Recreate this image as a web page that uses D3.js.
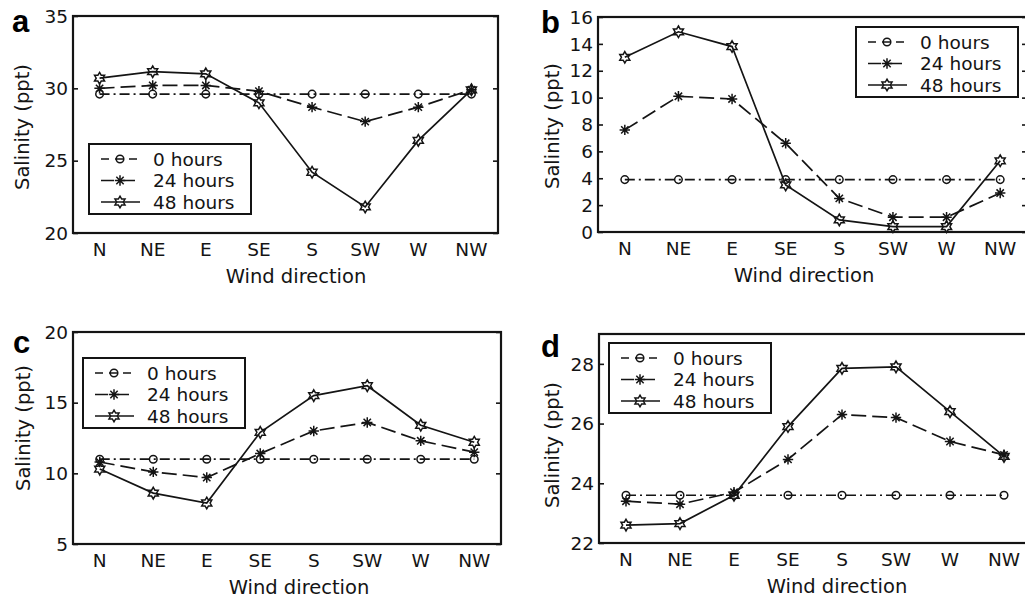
<!DOCTYPE html>
<html><head><meta charset="utf-8">
<script src="https://cdn.jsdelivr.net/npm/d3@7"></script>
<style>body{margin:0;background:#fff}svg{display:block}</style>
</head><body>
<svg id="chart" width="1025" height="603"></svg>
<script>
// ---- data ----
const categories = ["N","NE","E","SE","S","SW","W","NW"];
const seriesLabels = ["0 hours","24 hours","48 hours"];
const panelLetters = ["a","b","c","d"];

const a0h  = [29.6,29.6,29.6,29.6,29.6,29.6,29.6,29.6];
const a24h = [30.0,30.2,30.2,29.8,28.7,27.7,28.7,29.9];
const a48h = [30.7,31.15,31.0,29.0,24.2,21.8,26.4,29.9];

const b0h  = [3.9,3.9,3.9,3.9,3.9,3.9,3.9,3.9];
const b24h = [7.6,10.1,9.9,6.6,2.5,1.1,1.1,2.9];
const b48h = [13.0,14.9,13.8,3.5,0.9,0.4,0.4,5.3];

const c0h  = [11.0,11.0,11.0,11.0,11.0,11.0,11.0,11.0];
const c24h = [10.8,10.1,9.7,11.4,13.0,13.6,12.3,11.5];
const c48h = [10.3,8.6,7.9,12.9,15.5,16.2,13.4,12.2];

const d0h  = [23.6,23.6,23.6,23.6,23.6,23.6,23.6,23.6];
const d24h = [23.4,23.3,23.7,24.8,26.3,26.2,25.4,24.95];
const d48h = [22.6,22.65,23.6,25.9,27.85,27.9,26.4,24.9];

const aTicks = [20,25,30,35];
const bTicks = [0,2,4,6,8,10,12,14,16];
const cTicks = [5,10,15,20];
const dTicks = [22,24,26,28];

const aDomain = [20,35], bDomain = [0,16], cDomain = [5,20], dDomain = [22,29];
const xLabel = "Wind direction";
const yLabel = "Salinity (ppt)";

// ---- layout ----
const panels = [
  {series:[a0h,a24h,a48h], ticks:aTicks, domain:aDomain, box:[73,16,498,233],
   legend:[89,144], xlab:296, ylab:[22,127], letter:[12,32]},
  {series:[b0h,b24h,b48h], ticks:bTicks, domain:bDomain, box:[598,17,1027,232],
   legend:[856,27], xlab:804, ylab:[552,126], letter:[541,33]},
  {series:[c0h,c24h,c48h], ticks:cTicks, domain:cDomain, box:[73,332,501,544],
   legend:[83,358], xlab:299, ylab:[23,428], letter:[13,353]},
  {series:[d0h,d24h,d48h], ticks:dTicks, domain:dDomain, box:[599,334,1031,543],
   legend:[609,343], xlab:837, ylab:[552,445], letter:[541,357]}
];

const ink = "#141414";
const dashes = ["10,4,2,4", "15,6", null];
const font = "'DejaVu Sans', Verdana, sans-serif";

function hexagram(r){
  const ri = r/Math.sqrt(3), pts=[];
  for(let i=0;i<12;i++){
    const rr = i%2===0 ? r : ri;
    const ang = -Math.PI/2 + i*Math.PI/6;
    pts.push([rr*Math.cos(ang), rr*Math.sin(ang)]);
  }
  return "M"+pts.map(p=>p[0].toFixed(2)+","+p[1].toFixed(2)).join("L")+"Z";
}
function asterisk(r){
  const d = r*Math.SQRT1_2;
  return `M${-r},0L${r},0M0,${-r}L0,${r}M${-d},${-d}L${d},${d}M${-d},${d}L${d},${-d}`;
}
function circle(r){
  return `M${r},0A${r},${r} 0 1,1 ${-r},0A${r},${r} 0 1,1 ${r},0Z`;
}
const markers = [circle(3.8), asterisk(5.2), hexagram(5.8)];

const svg = d3.select("#chart");

panels.forEach((p, pi) => {
  const [x0,y0,x1,y1] = p.box;
  const g = svg.append("g");
  const x = d3.scalePoint().domain(categories).range([x0,x1]).padding(0.5);
  const y = d3.scaleLinear().domain(p.domain).range([y1,y0]);

  // y axes (ticks inside, both sides)
  const yl = g.append("g").attr("transform",`translate(${x0},0)`)
    .call(d3.axisRight(y).tickValues(p.ticks).tickSize(5).tickFormat(""));
  yl.select(".domain").remove();
  const yr = g.append("g").attr("transform",`translate(${x1},0)`)
    .call(d3.axisLeft(y).tickValues(p.ticks).tickSize(5).tickFormat(""));
  yr.select(".domain").remove();
  g.selectAll(".tick line").attr("stroke",ink).attr("stroke-width",1.6);

  // tick labels
  g.append("g").selectAll("text").data(p.ticks).join("text")
    .attr("x", x0-5).attr("y", d=>y(d)).attr("dy","0.36em")
    .attr("text-anchor","end").attr("font-family",font).attr("font-size",18.5)
    .attr("fill",ink).text(d=>d);
  g.append("g").selectAll("text").data(categories).join("text")
    .attr("x", d=>x(d)).attr("y", y1+23)
    .attr("text-anchor","middle").attr("font-family",font).attr("font-size",18.5)
    .attr("fill",ink).text(d=>d);

  // series lines + markers
  p.series.forEach((vals, si) => {
    const pts = categories.map((c,i)=>[x(c), y(vals[i])]);
    g.append("path").attr("d", d3.line()(pts))
      .attr("fill","none").attr("stroke",ink).attr("stroke-width",1.7)
      .attr("stroke-dasharray", dashes[si]);
    g.append("g").selectAll("path").data(pts).join("path")
      .attr("transform", d=>`translate(${d[0]},${d[1]})`)
      .attr("d", markers[si]).attr("fill","none").attr("stroke",ink)
      .attr("stroke-width",1.5);
  });

  // box
  g.append("rect").attr("x",x0).attr("y",y0).attr("width",x1-x0).attr("height",y1-y0)
    .attr("fill","none").attr("stroke",ink).attr("stroke-width",2.2);

  // legend
  const [lx,ly] = p.legend;
  const lg = g.append("g").attr("transform",`translate(${lx},${ly})`);
  lg.append("rect").attr("width",162).attr("height",70)
    .attr("fill","#fff").attr("stroke",ink).attr("stroke-width",2);
  seriesLabels.forEach((lab, si) => {
    const cy = 15 + si*21.5;
    lg.append("path").attr("d",`M12,${cy}L51,${cy}`)
      .attr("stroke",ink).attr("stroke-width",1.7).attr("fill","none")
      .attr("stroke-dasharray", si===0 ? "8,6,0,0" : (si===1 ? "13,8" : null));
    lg.append("path").attr("transform",`translate(31,${cy})`).attr("d",markers[si])
      .attr("fill", "none").attr("stroke",ink).attr("stroke-width",1.5);
    lg.append("text").attr("x",64).attr("y",cy).attr("dy","0.36em")
      .attr("font-family",font).attr("font-size",18.5).attr("fill",ink).text(lab);
  });

  // axis titles
  g.append("text").attr("x",p.xlab).attr("y",y1+50).attr("text-anchor","middle")
    .attr("font-family",font).attr("font-size",19.5).attr("fill",ink).text(xLabel);
  g.append("text").attr("transform",`translate(${p.ylab[0]},${p.ylab[1]}) rotate(-90)`)
    .attr("dy","0.36em").attr("text-anchor","middle")
    .attr("font-family",font).attr("font-size",19.5).attr("fill",ink).text(yLabel);

  // panel letter
  g.append("text").attr("x",p.letter[0]).attr("y",p.letter[1])
    .attr("font-family","'Liberation Sans', Arial, sans-serif").attr("font-weight","bold")
    .attr("font-size",31).attr("fill","#000").text(panelLetters[pi]);
});
</script>
</body></html>
